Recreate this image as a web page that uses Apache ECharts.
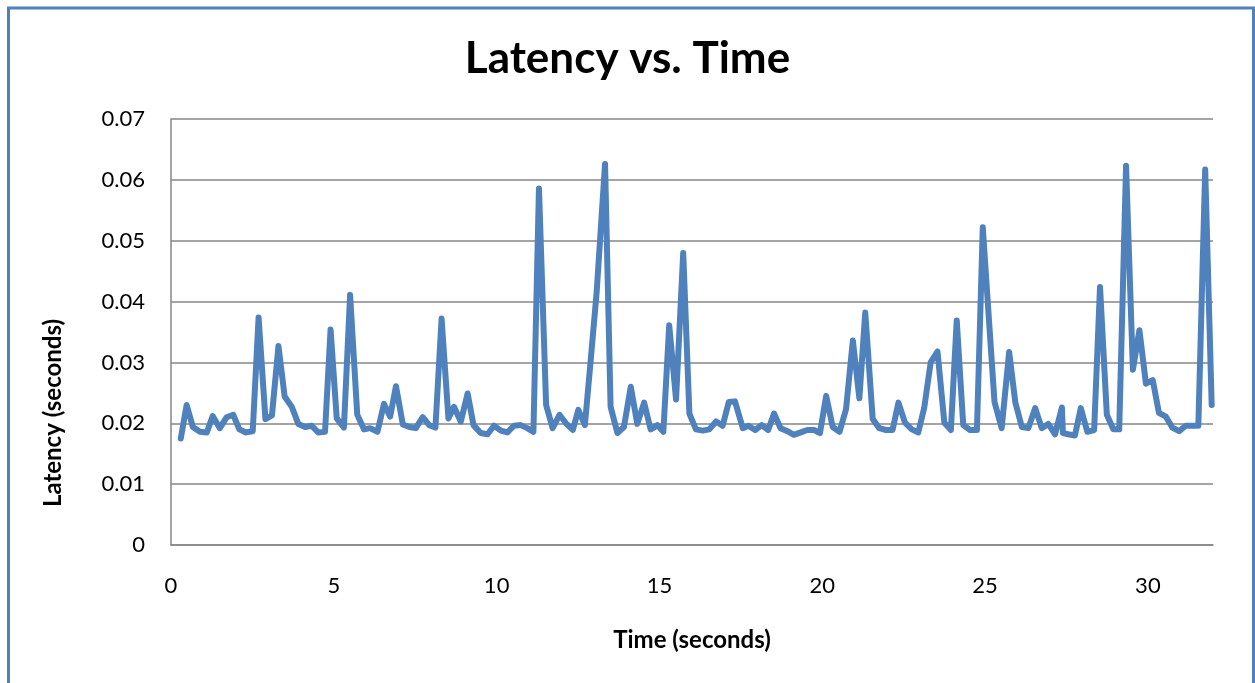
<!DOCTYPE html>
<html>
<head>
<meta charset="utf-8">
<script src="https://cdn.jsdelivr.net/npm/echarts@6/dist/echarts.min.js"></script>
<style>
html,body{margin:0;padding:0;background:#fff;}
#chart{width:1255px;height:683px;}
</style>
</head>
<body>
<div id="chart"></div>
<script>
const chartTitle = 'Latency vs. Time';
const xTitle = 'Time (seconds)';
const yTitle = 'Latency (seconds)';
const timeSec = [0.30,0.48,0.67,0.89,1.10,1.28,1.50,1.71,1.91,2.10,2.30,2.51,2.69,2.90,3.10,3.30,3.49,3.71,3.91,4.12,4.32,4.52,4.73,4.90,5.09,5.31,5.50,5.72,5.93,6.11,6.34,6.54,6.73,6.91,7.12,7.32,7.52,7.73,7.93,8.12,8.31,8.52,8.69,8.90,9.11,9.29,9.51,9.72,9.92,10.13,10.33,10.53,10.74,10.94,11.13,11.30,11.52,11.72,11.93,12.13,12.34,12.51,12.71,12.90,13.07,13.33,13.50,13.71,13.91,14.12,14.32,14.53,14.73,14.94,15.12,15.30,15.51,15.73,15.92,16.12,16.33,16.53,16.74,16.94,17.13,17.32,17.56,17.73,17.94,18.14,18.34,18.52,18.72,18.93,19.13,19.34,19.54,19.75,19.93,20.12,20.32,20.53,20.73,20.94,21.14,21.32,21.55,21.75,21.96,22.16,22.34,22.54,22.75,22.95,23.13,23.33,23.54,23.75,23.95,24.13,24.33,24.54,24.75,24.93,25.13,25.29,25.51,25.74,25.93,26.13,26.33,26.54,26.74,26.94,27.15,27.36,27.39,27.55,27.76,27.94,28.14,28.35,28.53,28.74,28.94,29.12,29.33,29.54,29.74,29.94,30.15,30.34,30.55,30.75,30.96,31.16,31.37,31.55,31.76,31.96];
const latencySec = [0.0175,0.0230,0.0194,0.0186,0.0185,0.0212,0.0192,0.0210,0.0214,0.0190,0.0185,0.0187,0.0374,0.0207,0.0213,0.0327,0.0244,0.0227,0.0199,0.0194,0.0196,0.0185,0.0186,0.0354,0.0208,0.0193,0.0411,0.0214,0.0190,0.0192,0.0186,0.0232,0.0211,0.0261,0.0198,0.0194,0.0192,0.0210,0.0197,0.0193,0.0372,0.0208,0.0227,0.0203,0.0249,0.0197,0.0184,0.0182,0.0196,0.0188,0.0185,0.0196,0.0197,0.0192,0.0186,0.0586,0.0230,0.0192,0.0214,0.0200,0.0189,0.0222,0.0197,0.0310,0.0414,0.0626,0.0227,0.0184,0.0194,0.0260,0.0199,0.0234,0.0190,0.0197,0.0186,0.0361,0.0239,0.0480,0.0216,0.0190,0.0188,0.0190,0.0203,0.0196,0.0235,0.0236,0.0192,0.0196,0.0189,0.0197,0.0189,0.0216,0.0192,0.0187,0.0181,0.0185,0.0189,0.0189,0.0184,0.0245,0.0194,0.0186,0.0223,0.0336,0.0241,0.0382,0.0207,0.0192,0.0189,0.0189,0.0234,0.0201,0.0190,0.0185,0.0225,0.0300,0.0318,0.0201,0.0189,0.0369,0.0197,0.0189,0.0189,0.0522,0.0362,0.0235,0.0192,0.0317,0.0234,0.0194,0.0192,0.0225,0.0192,0.0199,0.0182,0.0226,0.0184,0.0182,0.0180,0.0225,0.0186,0.0189,0.0424,0.0214,0.0190,0.0190,0.0623,0.0288,0.0353,0.0265,0.0271,0.0217,0.0211,0.0193,0.0187,0.0196,0.0196,0.0196,0.0617,0.0230];
const xTicks = [0,5,10,15,20,25,30];
const yTicks = [0,0.01,0.02,0.03,0.04,0.05,0.06,0.07];

const chart = echarts.init(document.getElementById('chart'), null, {renderer:'canvas'});
const FONT = 'Lato, "Open Sans", sans-serif';
const gray = '#868686';
chart.setOption({
  animation:false,
  backgroundColor:'#ffffff',
  title:{
    text:chartTitle, left:'center', top:32,
    textStyle:{fontFamily:FONT, fontWeight:'bold', fontSize:44, color:'#000'}
  },
  grid:{left:171, right:42, top:119, bottom:138, containLabel:false},
  xAxis:{
    type:'value', min:xTicks[0], max:32, interval:5,
    name:xTitle, nameLocation:'middle', nameGap:83,
    nameTextStyle:{fontFamily:FONT, fontWeight:'bold', fontSize:24, color:'#000'},
    axisLine:{show:true, onZero:false, lineStyle:{color:gray, width:1.5}},
    axisTick:{show:false},
    splitLine:{show:false},
    axisLabel:{fontFamily:FONT, fontSize:22, color:'#000', margin:30,
      formatter:v => xTicks.indexOf(v) >= 0 ? String(v) : ''}
  },
  yAxis:{
    type:'value', min:yTicks[0], max:yTicks[yTicks.length-1], interval:0.01,
    axisLine:{show:true, lineStyle:{color:gray, width:1.5}},
    axisTick:{show:false},
    splitLine:{show:true, lineStyle:{color:gray, width:1.5}},
    axisLabel:{fontFamily:FONT, fontSize:22, color:'#000', margin:26,
      formatter:v => { const r = Math.round(v*100)/100; return r === 0 ? '0' : r.toFixed(2); }}
  },
  graphic:[
    {type:'rect', shape:{x:8.5, y:8, width:1245, height:700}, style:{fill:null, stroke:'#4F81BD', lineWidth:3}, silent:true},
    {type:'text', x:53, y:413, rotation:Math.PI/2,
      style:{text:yTitle, fontFamily:FONT, fontWeight:'bold', fontSize:24, fill:'#000', align:'center', verticalAlign:'middle'}}
  ],
  series:[{
    type:'line',
    data:timeSec.map((t,i)=>[t, latencySec[i]]),
    showSymbol:false, symbol:'none',
    lineStyle:{color:'#4F81BD', width:6, join:'round', cap:'round'},
    itemStyle:{color:'#4F81BD'}
  }]
});
</script>
</body>
</html>
